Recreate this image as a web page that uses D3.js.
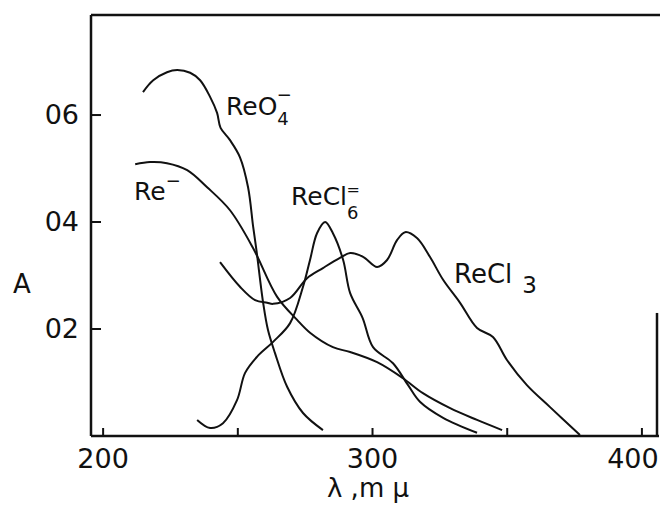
<!DOCTYPE html>
<html lang="en">
<head>
    <meta charset="UTF-8">
    <script src="https://d3js.org/d3.v7.min.js"></script>
    <title>Absorption spectra</title>
    <style>
        body { margin: 0; background: white; }
        svg { display: block; }
        text { font-family: "DejaVu Sans", sans-serif; fill: #111; }
        .curve { fill: none; stroke: #111; stroke-width: 2px; }
        .frame { stroke: #111; stroke-width: 2.5px; fill: none; }
    </style>
</head>
<body>
    <div id="chart"></div>
    <script>
        // ---- data (wavelength in mμ, absorbance A) ----
        const reo4 = [
            [214.8, 0.643], [218.6, 0.665], [223.7, 0.680], [227.5, 0.684], [232.3, 0.679],
            [236.0, 0.665], [239.7, 0.634], [242.3, 0.604], [243.6, 0.576], [247.1, 0.553],
            [250.8, 0.521], [253.8, 0.465], [255.7, 0.391], [256.9, 0.348], [259.4, 0.249],
            [261.2, 0.198], [263.8, 0.155], [268.3, 0.092], [274.2, 0.043], [281.6, 0.011]
        ];
        const reMinus = [
            [211.9, 0.508], [217.4, 0.512], [223.7, 0.510], [231.2, 0.497], [238.6, 0.465],
            [247.1, 0.422], [255.7, 0.351], [264.6, 0.260], [272.0, 0.217], [276.8, 0.193],
            [285.3, 0.166], [291.7, 0.157], [301.7, 0.138], [311.3, 0.108], [318.7, 0.080],
            [328.8, 0.052], [338.8, 0.030], [348.1, 0.011]
        ];
        const recl6 = [
            [234.9, 0.030], [239.7, 0.015], [244.5, 0.024], [249.7, 0.067], [252.7, 0.118],
            [257.1, 0.148], [263.1, 0.176], [269.4, 0.211], [274.2, 0.279], [276.8, 0.329],
            [279.4, 0.379], [282.4, 0.400], [285.3, 0.379], [289.1, 0.329], [291.7, 0.267],
            [296.3, 0.221], [300.2, 0.166], [307.6, 0.136], [313.2, 0.095], [317.6, 0.064],
            [326.2, 0.034], [338.8, 0.006]
        ];
        const recl3 = [
            [243.4, 0.325], [250.8, 0.279], [256.4, 0.254], [260.9, 0.249], [263.1, 0.247],
            [269.4, 0.258], [275.7, 0.295], [281.6, 0.314], [287.9, 0.333], [291.7, 0.342],
            [296.5, 0.335], [301.7, 0.316], [305.4, 0.329], [309.1, 0.366], [312.1, 0.381],
            [316.5, 0.370], [321.3, 0.335], [326.2, 0.292], [332.5, 0.249], [338.8, 0.202],
            [344.7, 0.185], [349.9, 0.142], [357.3, 0.095], [365.9, 0.054], [377.0, 0.002]
        ];

        const xTicks = [200, 250, 300, 350, 400];
        const xTickLabels = ["200", "", "300", "", "400"];
        const yTicks = [0.2, 0.4, 0.6];
        const yTickLabels = ["02", "04", "06"];

        const width = 660, height = 505;

        const svg = d3.select("#chart").append("svg")
            .attr("width", width)
            .attr("height", height);

        const x = d3.scaleLinear().domain([195.5, 405.6]).range([91, 657]);
        const y = d3.scaleLinear().domain([0, 0.787]).range([436, 15]);

        // frame: left, bottom, top, and the lower part of the right side
        const [x0, x1] = x.range();
        const [yb, yt] = y.range();
        const frame = [
            [x0, yt, x0, yb],
            [x0, yb, width - 1, yb],
            [x0, yt, width, yt],
            [x1, y(0.23), x1, yb]
        ];
        svg.selectAll(".frame").data(frame).enter().append("line")
            .attr("class", "frame")
            .attr("x1", d => d[0]).attr("y1", d => d[1])
            .attr("x2", d => d[2]).attr("y2", d => d[3]);

        // ticks point inward
        svg.selectAll(".xtick").data(xTicks).enter().append("line")
            .attr("x1", d => x(d)).attr("x2", d => x(d))
            .attr("y1", yb).attr("y2", yb - 8)
            .attr("stroke", "#111").attr("stroke-width", 2);
        svg.selectAll(".ytick").data(yTicks).enter().append("line")
            .attr("x1", x0).attr("x2", x0 + 10)
            .attr("y1", d => y(d)).attr("y2", d => y(d))
            .attr("stroke", "#111").attr("stroke-width", 2);

        svg.selectAll(".xlab").data(xTicks).enter().append("text")
            .attr("x", (d, i) => x(d) - (i === xTicks.length - 1 ? 9 : 0))
            .attr("y", 468)
            .attr("text-anchor", "middle")
            .attr("font-size", 27)
            .text((d, i) => xTickLabels[i]);
        svg.selectAll(".ylab").data(yTicks).enter().append("text")
            .attr("x", 79)
            .attr("y", d => y(d) + 9)
            .attr("text-anchor", "end")
            .attr("font-size", 27)
            .text((d, i) => yTickLabels[i]);

        svg.append("text").attr("x", 22).attr("y", 293)
            .attr("text-anchor", "middle").attr("font-size", 26).text("A");
        svg.append("text").attr("x", 368).attr("y", 497)
            .attr("text-anchor", "middle").attr("font-size", 26).text("λ ,m μ");

        // curves
        const line = d3.line()
            .x(d => x(d[0]))
            .y(d => y(d[1]))
            .curve(d3.curveCatmullRom.alpha(0.5));

        [reo4, reMinus, recl6, recl3].forEach(series => {
            svg.append("path").attr("class", "curve").attr("d", line(series));
        });

        // curve labels
        const lab1 = svg.append("text").attr("x", 226).attr("y", 115).attr("font-size", 25);
        lab1.append("tspan").text("ReO");
        lab1.append("tspan").attr("font-size", 18).attr("dy", 10).text("4");
        lab1.append("tspan").attr("font-size", 18).attr("dx", -12).attr("dy", -24).text("−");

        const lab2 = svg.append("text").attr("x", 134).attr("y", 200).attr("font-size", 25);
        lab2.append("tspan").text("Re");
        lab2.append("tspan").attr("font-size", 18).attr("dy", -13).text("−");

        const lab3 = svg.append("text").attr("x", 291).attr("y", 205).attr("font-size", 25);
        lab3.append("tspan").text("ReCl");
        lab3.append("tspan").attr("font-size", 18).attr("dy", 14).text("6");
        lab3.append("tspan").attr("font-size", 16).attr("dx", -12).attr("dy", -24).text("=");

        const lab4 = svg.append("text").attr("x", 454).attr("y", 283).attr("font-size", 26);
        lab4.append("tspan").text("ReCl");
        lab4.append("tspan").attr("font-size", 23).attr("dx", 10).attr("dy", 10).text("3");
    </script>
</body>
</html>
